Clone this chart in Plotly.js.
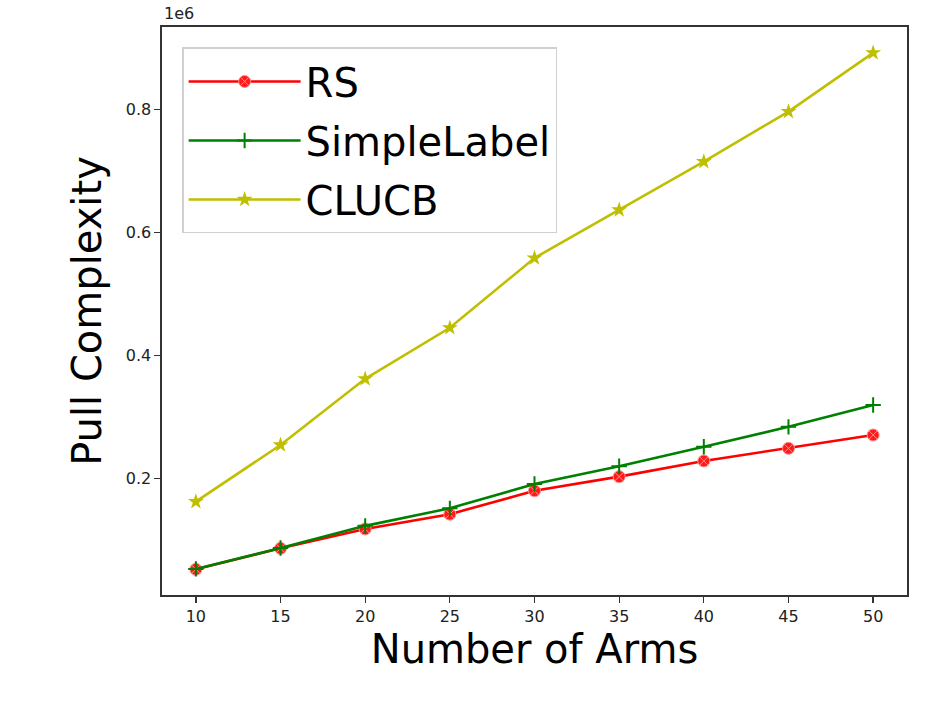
<!DOCTYPE html>
<html>
<head>
<meta charset="utf-8">
<script src="https://cdn.plot.ly/plotly-3.0.1.min.js"></script>
<style>
  html, body { margin: 0; padding: 0; background: #fff; }
  #chart { width: 934px; height: 701px; }
</style>
</head>
<body>
<div id="chart"></div>
<script>
  const arms = [10, 15, 20, 25, 30, 35, 40, 45, 50];
  const rsPulls = [52400, 86500, 118000, 142000, 180000, 203000, 228500, 249000, 270700];
  const simpleLabelPulls = [53000, 87000, 123000, 151500, 191000, 220000, 251700, 284000, 319500];
  const clucbPulls = [162300, 254500, 362000, 445000, 558500, 636600, 715000, 796500, 892000];

  const yTickVals = [200000, 400000, 600000, 800000];
  const yTickText = ['0.2', '0.4', '0.6', '0.8'];
  const xTickVals = [10, 15, 20, 25, 30, 35, 40, 45, 50];

  const FONT = 'DejaVu Sans, sans-serif';

  function lineTrace({ name, y, color, symbol, size, markerColor, markerLine }) {
    return {
      type: 'scatter',
      mode: 'lines+markers',
      x: arms,
      y,
      name,
      legendgroup: name,
      line: { color, width: 2.6 },
      marker: {
        symbol,
        size,
        color: markerColor || color,
        line: markerLine || { color, width: 0 }
      }
    };
  }

  const traces = [
    lineTrace({
      name: 'RS', y: rsPulls, color: '#ff0000', symbol: 'circle-x', size: 12,
      markerColor: '#ff1a1a', markerLine: { color: '#ff9090', width: 1 }
    }),
    lineTrace({
      name: 'SimpleLabel', y: simpleLabelPulls, color: '#008000', symbol: 'cross-thin', size: 11,
      markerLine: { color: '#008000', width: 2 }
    }),
    lineTrace({
      name: 'CLUCB', y: clucbPulls, color: '#bfbf00', symbol: 'star', size: 12
    })
  ];

  const axisCommon = {
    showgrid: false,
    zeroline: false,
    showline: true,
    linecolor: '#333',
    linewidth: 1.6,
    mirror: true,
    ticks: 'outside',
    ticklen: 6,
    tickwidth: 1.3,
    tickcolor: '#333',
    tickfont: { family: FONT, size: 16, color: '#222' }
  };

  const layout = {
    width: 934,
    height: 701,
    paper_bgcolor: '#fff',
    plot_bgcolor: '#fff',
    font: { family: FONT, color: '#000' },
    margin: { l: 162, r: 27, t: 27, b: 106 },
    showlegend: true,
    legend: {
      x: 0.027,
      y: 0.964,
      xanchor: 'left',
      yanchor: 'top',
      bgcolor: 'rgba(255,255,255,0.8)',
      bordercolor: '#d0d0d0',
      borderwidth: 1.5,
      itemwidth: 112,
      tracegroupgap: 4,
      font: { family: FONT, size: 40, color: '#000' }
    },
    xaxis: Object.assign({}, axisCommon, {
      range: [8, 52],
      tickvals: xTickVals,
      title: { text: 'Number of Arms', font: { family: FONT, size: 40, color: '#000' }, standoff: 10 }
    }),
    yaxis: Object.assign({}, axisCommon, {
      range: [10600, 934000],
      tickvals: yTickVals,
      ticktext: yTickText,
      title: { text: 'Pull Complexity', font: { family: FONT, size: 40, color: '#000' }, standoff: 12 }
    }),
    annotations: [
      {
        xref: 'paper', yref: 'paper', x: 0, y: 1,
        xanchor: 'left', yanchor: 'bottom', yshift: 2,
        text: '1e6', showarrow: false,
        font: { family: FONT, size: 16, color: '#222' }
      }
    ]
  };

  Plotly.newPlot('chart', traces, layout, { displayModeBar: false, staticPlot: true });
</script>
</body>
</html>
